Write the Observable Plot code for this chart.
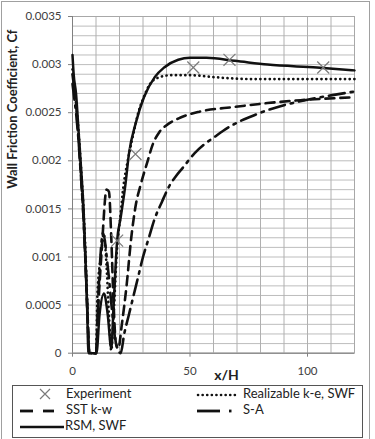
<!DOCTYPE html>
<html><head><meta charset="utf-8">
<script src="https://cdn.jsdelivr.net/npm/d3@7"></script>
<script src="https://cdn.jsdelivr.net/npm/@observablehq/plot@0.6"></script>
<style>
body{margin:0;background:#fff;}
#wrap{position:relative;width:375px;height:439px;overflow:hidden;font-family:Lato,"Open Sans",sans-serif;}
#border{position:absolute;left:1px;top:1px;width:369px;height:445px;border:1px solid #a0a0a0;box-sizing:border-box;}
#chart{position:absolute;left:0;top:0;}
#legend{position:absolute;left:12px;top:385px;}
#legend text{font-family:Lato,sans-serif;font-size:13px;fill:#222;dominant-baseline:middle;}
</style></head>
<body><div id="wrap"><div id="border"></div><div id="chart"></div>
<svg id="legend" width="352" height="54">
  <rect x="0.5" y="0.5" width="350" height="52" fill="#fff" stroke="#555"/>
  <path d="M28,4 L38,14 M38,4 L28,14" stroke="#7a7a7a" stroke-width="1.2" fill="none"/>
  <text x="54" y="10">Experiment</text>
  <line x1="186" y1="10" x2="225" y2="10" stroke="#111" stroke-width="2.6" stroke-dasharray="0.1,4.5" stroke-linecap="round"/>
  <text x="231" y="10">Realizable k-e, SWF</text>
  <line x1="8" y1="26" x2="21" y2="26" stroke="#111" stroke-width="2.8"/>
  <line x1="31" y1="26" x2="42" y2="26" stroke="#111" stroke-width="2.8"/>
  <text x="54" y="26">SST k-w</text>
  <line x1="185" y1="26" x2="208" y2="26" stroke="#111" stroke-width="2.8"/>
  <line x1="217" y1="26" x2="219.5" y2="26" stroke="#111" stroke-width="2.8"/>
  <text x="231" y="26">S-A</text>
  <line x1="8" y1="42" x2="52" y2="42" stroke="#111" stroke-width="2.6"/>
  <text x="53" y="42">RSM, SWF</text>
</svg>
</div>
<script>
const xTicks = [0, 50, 100];
const yTicks = [0, 0.0005, 0.001, 0.0015, 0.002, 0.0025, 0.003, 0.0035];

const expX = [19, 26.8, 51.4, 66.8, 106.7];
const expY = [0.00117, 0.00207, 0.00297, 0.00305, 0.00297];

const rsm = [[0,0.0031],[0.5,0.0029],[1.5,0.0027],[2.6,0.0023],[3.7,0.0019],[4.7,0.0015],[5.5,0.001],[6.2,0.0005],[6.8,0],[10.2,0],[11.5,0.0004],[13.4,0.00062],[15,0.0004],[16.5,0.00005],[17.5,0.0005],[19,0.00117],[20.5,0.00141],[22.5,0.00175],[24,0.00207],[27,0.0024],[30.4,0.00266],[35,0.00287],[39,0.00297],[45,0.00305],[50,0.00307],[57,0.00307],[69,0.00304],[83,0.003],[104,0.00297],[120,0.00294]];

const realizable = [[0,0.00295],[0.5,0.0028],[1.5,0.0026],[2.6,0.0023],[3.7,0.0019],[4.7,0.0015],[5.6,0.001],[6.3,0.0005],[7,0],[10,0],[10.6,0.0006],[12,0.001],[13.3,0.00124],[14.5,0.0009],[15.5,0.0004],[16.5,0.00003],[17.5,0.0004],[19,0.0011],[20.5,0.00145],[21.5,0.0017],[23.5,0.002],[26,0.00229],[28,0.0025],[30.3,0.00266],[33,0.0028],[36,0.00286],[42,0.00289],[50,0.00289],[60,0.00287],[75,0.00285],[120,0.00285]];

const sst = [[0,0.0029],[0.5,0.0028],[1.5,0.0026],[2.6,0.0022],[3.7,0.0018],[4.7,0.0014],[5.6,0.0009],[6.4,0.0004],[7.2,0],[10,0],[11,0.0005],[12.5,0.0011],[14.5,0.0017],[15.5,0.00168],[16.5,0.0012],[17.5,0.0005],[18.5,0.0001],[19.5,0.00005],[21,0.0003],[23,0.0007],[25,0.0012],[27,0.00155],[29,0.00175],[32,0.002],[34,0.00216],[37,0.0023],[40,0.00237],[46,0.00245],[54,0.00251],[69,0.00256],[83,0.0026],[97,0.00263],[120,0.00266]];

const sa = [[0,0.0028],[0.5,0.0027],[1.5,0.0025],[2.6,0.0022],[3.7,0.0018],[4.7,0.0014],[5.6,0.0009],[6.4,0.0004],[7.2,0],[10,0],[11,0.0006],[13,0.00125],[15,0.0009],[17,0.0004],[18.5,0.0001],[20.5,0],[22,0.0002],[24,0.0004],[26,0.0006],[28,0.0008],[30,0.001],[32.5,0.0012],[35,0.0014],[38,0.00157],[41,0.00173],[44,0.00184],[47,0.00193],[52,0.00208],[56,0.00217],[60,0.00224],[64,0.00231],[72,0.00242],[76,0.00246],[80,0.0025],[86,0.00255],[99,0.00263],[110,0.00268],[120,0.00272]];

const experiment = expX.map((x, i) => ({x, y: expY[i]}));
const fmt = d => d === 0 ? "0" : String(+d.toFixed(4));

const chart = Plot.plot({
  width: 375, height: 385,
  marginLeft: 72, marginRight: 21, marginTop: 16, marginBottom: 32.3,
  x: {domain: [0, 120]},
  y: {domain: [0, 0.0035]},
  style: {fontFamily: "Lato, sans-serif", fontSize: "11.5px", color: "#404040", background: "transparent"},
  marks: [
    Plot.gridY({ticks: d3.range(0, 0.00351, 0.0001), stroke: "#bdbdbd", strokeOpacity: 1}),
    Plot.gridX({ticks: d3.range(0, 121, 10), stroke: "#b0b0b0", strokeOpacity: 1}),
    Plot.frame({stroke: "#a8a8a8"}),
    Plot.axisY(yTicks, {tickSize: 4, tickPadding: 7, tickFormat: fmt, label: null, stroke: "#808080", letterSpacing: "0.4px"}),
    Plot.axisX(xTicks, {tickSize: 4, tickPadding: 10, tickFormat: d => String(d), label: null, stroke: "#808080"}),
    Plot.ruleX([0], {stroke: "#808080"}),
    Plot.ruleY([0], {stroke: "#808080"}),
    Plot.line(sa, {x: d => d[0], y: d => d[1], stroke: "#111", strokeWidth: 2.6, strokeDasharray: "16,6,2.5,6", curve: "monotone-x"}),
    Plot.line(sst, {x: d => d[0], y: d => d[1], stroke: "#111", strokeWidth: 2.6, strokeDasharray: "9,6", curve: "monotone-x"}),
    Plot.line(realizable, {x: d => d[0], y: d => d[1], stroke: "#111", strokeWidth: 2.7, strokeDasharray: "0.1,4.6", strokeLinecap: "round", curve: "monotone-x"}),
    Plot.line(rsm, {x: d => d[0], y: d => d[1], stroke: "#111", strokeWidth: 2.5, curve: "monotone-x"}),
    Plot.dot(experiment, {x: "x", y: "y", symbol: "times", r: 5.5, stroke: "#7a7a7a", strokeWidth: 1.2}),
    Plot.text(["x/H"], {frameAnchor: "bottom", dx: 13, dy: 27, fontWeight: "bold", fontSize: 14, fill: "#222"}),
    Plot.text(["Wall Friction Coefficient, Cf"], {frameAnchor: "left", rotate: -90, dx: -60, dy: 4, fontWeight: "bold", fontSize: 13, fill: "#222"})
  ]
});
document.getElementById("chart").appendChild(chart);
</script>
</body></html>
